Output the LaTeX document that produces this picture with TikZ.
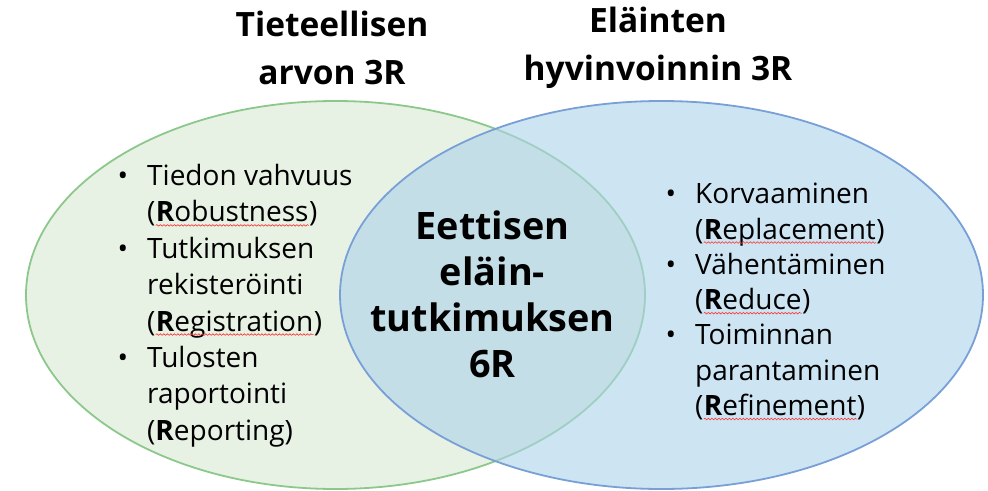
\documentclass[tikz,border=0pt]{standalone}
\usepackage{fontspec}
\setmainfont{Open Sans}
\usepackage{xcolor}
\usetikzlibrary{positioning,decorations.pathmorphing}
\definecolor{tiedefill}{RGB}{232,242,228}
\definecolor{tiedeline}{RGB}{140,200,140}
\definecolor{hyvfill}{RGB}{172,210,233}
\definecolor{hyvline}{RGB}{120,160,215}
\newcommand\redwave[1]{\tikz[baseline=(w.base)]{\node[inner sep=0pt] (w) {#1};
    \draw[red!80, line width=0.6pt, decorate, decoration={snake, amplitude=0.8pt, segment length=3.5pt}] ([yshift=-3.5pt]w.base west) -- ([yshift=-3.5pt]w.base east);}}
\newcommand\pallo{\llap{\textbullet\hspace{19pt}}}
\tikzset{
    venn/.style={line width=1.8pt},
    otsikko/.style={font=\fontsize{33.5}{48}\selectfont\bfseries, align=center},
    keskus/.style={font=\fontsize{37.8}{46}\selectfont\bfseries, align=center},
    lista/.style={font=\fontsize{28}{36}\selectfont, align=left, inner sep=0pt, anchor=north west}
}
\begin{document}
\begin{tikzpicture}[x=1pt, y=-1pt]
        \useasboundingbox (0,0) rectangle (988,490);
        \draw[venn, draw=tiedeline, fill=tiedefill] (335.5,295) ellipse [x radius=309.5pt, y radius=194pt];
        \draw[venn, draw=hyvline, fill=hyvfill, fill opacity=0.6] (661.5,295) ellipse [x radius=321.5pt, y radius=194pt];
        \node[otsikko] (tiedeotsikko) at (332,48) {Tieteellisen\\arvon 3R};
        \node[otsikko] (hyvotsikko) at (658,48) {Eläinten\\hyvinvoinnin 3R};
        \node[keskus] (eettinen) at (492.5,294) {Eettisen\\eläin-\\tutkimuksen\\6R};
        \node[lista, font=\fontsize{28}{36.4}\selectfont] (tiedelista) at (147,164) {\pallo Tiedon vahvuus\\(\redwave{\textbf{R}obustness})\\\pallo Tutkimuksen\\rekisteröinti\\(\redwave{\textbf{R}egistration})\\\pallo Tulosten\\raportointi\\(\textbf{R}eporting)};
        \node[lista, font=\fontsize{28}{35.3}\selectfont] (hyvlista) at (695,183) {\pallo Korvaaminen\\(\redwave{\textbf{R}eplacement})\\\pallo Vähentäminen\\(\redwave{\textbf{R}educe})\\\pallo Toiminnan\\parantaminen\\(\redwave{\textbf{R}efinement})};
    \end{tikzpicture}
\end{document}
